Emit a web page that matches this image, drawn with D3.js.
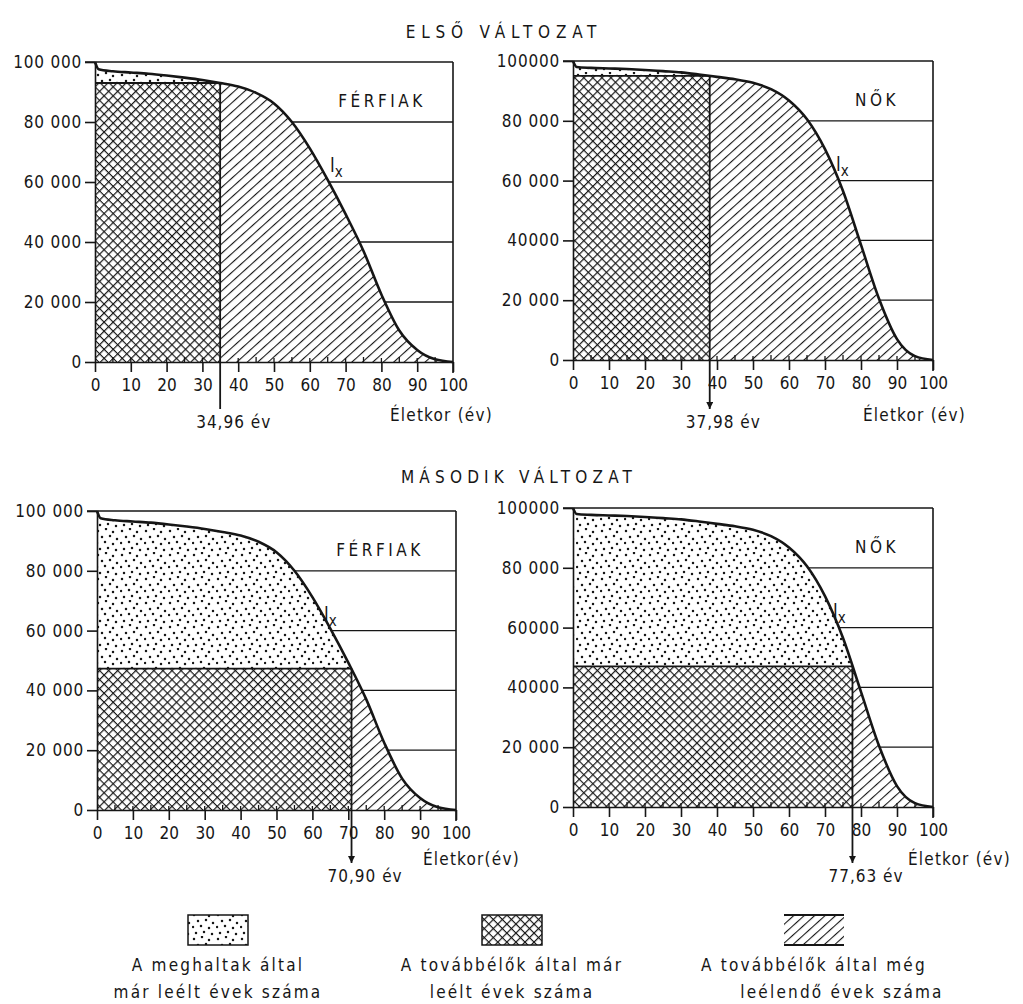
<!DOCTYPE html>
<html lang="hu">
<head>
<meta charset="UTF-8">
<title>Életkor - lx görbék</title>
<script src="https://d3js.org/d3.v7.min.js"></script>
<style>
    body { margin: 0; background: #fff; }
    svg text { font-family: "Liberation Sans Narrow", "DejaVu Sans Condensed", "Liberation Sans", sans-serif; fill: #161616; }
    .axis path, .axis line { stroke: #161616; stroke-width: 1.6px; }
    .grid { stroke: #161616; stroke-width: 1.3px; }
</style>
</head>
<body>
<svg width="1023" height="1004"></svg>
<script>
// életkor (év) és lx értékek
const ages     = [0, 1, 5, 10, 15, 20, 25, 30, 35, 40, 45, 50, 55, 60, 65, 70, 75, 80, 85, 90, 95, 100];
const menLx    = [100000, 97600, 96900, 96500, 96100, 95500, 94800, 94000, 93000, 91800, 89700, 86200, 80000, 71200, 60700, 49300, 37000, 22500, 10500, 4000, 900, 0];
const womenLx  = [100000, 98000, 97700, 97500, 97300, 97000, 96600, 96200, 95500, 94700, 93900, 92700, 90600, 86800, 80500, 70500, 56500, 38500, 20500, 7000, 1300, 0];

// panelek: első változat (férfi, nő), második változat (férfi, nő)
const cutAges   = [34.96, 37.98, 70.90, 77.63];
const cutLevels = [93000, 95000, 47300, 47000];
const cutLabels = ['34,96 év', '37,98 év', '70,90 év', '77,63 év'];
const variantTitles = ['ELSŐ VÁLTOZAT', 'MÁSODIK VÁLTOZAT'];
const sexLabels = ['FÉRFIAK', 'NŐK'];

const xTicks = [0, 10, 20, 30, 40, 50, 60, 70, 80, 90, 100];
const xMinor = [5, 15, 25, 35, 45, 55, 65, 75, 85, 95];
const yTicks = [0, 20000, 40000, 60000, 80000, 100000];
const gridLevels = [20000, 40000, 60000, 80000];
const yTickLabels = [
    ['0', '20 000', '40 000', '60 000', '80 000', '100 000'],
    ['0', '20 000', '40000', '60 000', '80 000', '100000'],
    ['0', '20 000', '40 000', '60 000', '80 000', '100 000'],
    ['0', '20 000', '40000', '60000', '80 000', '100000']
];
const xAxisTitles = ['Életkor (év)', 'Életkor (év)', 'Életkor(év)', 'Életkor (év)'];
const legendLabels = [
    ['A meghaltak által', 'már leélt évek száma'],
    ['A továbbélők által már', 'leélt évek száma'],
    ['A továbbélők által még', 'leélendő évek száma']
];

const svg = d3.select('svg');
const ink = '#161616';

// panel elrendezés
const panels = [
    { left: 95,  right: 453, top: 62,  bottom: 362, sex: 0, arrow: false, axisTitleX: 390, axisTitleY: 421, labelY: 428, sexX: 382, lxX: 330 },
    { left: 573, right: 933, top: 61,  bottom: 360, sex: 1, arrow: true,  axisTitleX: 863, axisTitleY: 421, labelY: 428, sexX: 877, lxX: 836 },
    { left: 97,  right: 456, top: 511, bottom: 810, sex: 0, arrow: true,  axisTitleX: 423, axisTitleY: 865, labelY: 882, sexX: 380, lxX: 324 },
    { left: 573, right: 933, top: 508, bottom: 807, sex: 1, arrow: true,  axisTitleX: 908, axisTitleY: 865, labelY: 882, sexX: 877, lxX: 833 }
];

// mintázatok
const defs = svg.append('defs');

const dots = defs.append('pattern')
    .attr('id', 'dots').attr('patternUnits', 'userSpaceOnUse')
    .attr('width', 24).attr('height', 24);
dots.append('rect').attr('width', 24).attr('height', 24).attr('fill', '#fff');
[[2, 3], [10, 1], [17, 4], [6, 9], [14, 8], [21, 11], [1, 15], [9, 14], [17, 16], [4, 21], [12, 20], [20, 22]]
    .forEach(p => dots.append('circle').attr('cx', p[0]).attr('cy', p[1]).attr('r', 1.25).attr('fill', ink));

const cross = defs.append('pattern')
    .attr('id', 'cross').attr('patternUnits', 'userSpaceOnUse')
    .attr('width', 6.4).attr('height', 6.4)
    .attr('patternTransform', 'rotate(45)');
cross.append('rect').attr('width', 6.4).attr('height', 6.4).attr('fill', '#fff');
cross.append('path').attr('d', 'M0,0V6.4M0,0H6.4').attr('stroke', ink).attr('stroke-width', 2.4);

const hatch = defs.append('pattern')
    .attr('id', 'hatch').attr('patternUnits', 'userSpaceOnUse')
    .attr('width', 7).attr('height', 7)
    .attr('patternTransform', 'rotate(-42)');
hatch.append('rect').attr('width', 7).attr('height', 7).attr('fill', '#fff');
hatch.append('path').attr('d', 'M0,0H7').attr('stroke', ink).attr('stroke-width', 2.2);

defs.append('marker')
    .attr('id', 'arrow').attr('viewBox', '0 0 8 8')
    .attr('refX', 8).attr('refY', 4)
    .attr('markerWidth', 7).attr('markerHeight', 7)
    .attr('markerUnits', 'userSpaceOnUse')
    .attr('orient', 'auto')
    .append('path').attr('d', 'M0,0L8,4L0,8z').attr('fill', ink);

// címek
svg.append('text').attr('x', 504).attr('y', 38).attr('text-anchor', 'middle')
    .attr('font-size', 17).attr('letter-spacing', 5.8).text(variantTitles[0]);
svg.append('text').attr('x', 519).attr('y', 483).attr('text-anchor', 'middle')
    .attr('font-size', 17).attr('letter-spacing', 5.2).text(variantTitles[1]);

panels.forEach((p, i) => {
    const lxValues = p.sex === 0 ? menLx : womenLx;
    const series = ages.map((a, j) => ({ age: a, lx: lxValues[j] }));
    const t = cutAges[i];
    const level = cutLevels[i];

    const x = d3.scaleLinear().domain([0, 100]).range([p.left, p.right]);
    const y = d3.scaleLinear().domain([0, 100000]).range([p.bottom, p.top]);

    const area = d3.area()
        .x(d => x(d.age)).y0(y(0)).y1(d => y(d.lx))
        .curve(d3.curveMonotoneX);
    const line = d3.line()
        .x(d => x(d.age)).y(d => y(d.lx))
        .curve(d3.curveMonotoneX);

    const g = svg.append('g');

    // vízszintes vonalak a jobb oldalon
    g.selectAll('.grid').data(gridLevels).join('line')
        .attr('class', 'grid')
        .attr('x1', x(0)).attr('x2', x(100))
        .attr('y1', d => y(d)).attr('y2', d => y(d));

    defs.append('clipPath').attr('id', 'under-' + i)
        .append('path').attr('d', area(series));

    const fills = g.append('g').attr('clip-path', `url(#under-${i})`);
    fills.append('rect')
        .attr('x', x(0)).attr('width', x(t) - x(0))
        .attr('y', y(100000)).attr('height', y(level) - y(100000))
        .attr('fill', 'url(#dots)');
    fills.append('rect')
        .attr('x', x(0)).attr('width', x(t) - x(0))
        .attr('y', y(level)).attr('height', y(0) - y(level))
        .attr('fill', 'url(#cross)');
    fills.append('rect')
        .attr('x', x(t)).attr('width', x(100) - x(t))
        .attr('y', y(100000)).attr('height', y(0) - y(100000))
        .attr('fill', 'url(#hatch)');

    // keresztsraffozott téglalap teteje
    g.append('line')
        .attr('x1', x(0)).attr('x2', x(t))
        .attr('y1', y(level)).attr('y2', y(level))
        .attr('stroke', ink).attr('stroke-width', 1.8);

    // lx görbe
    g.append('path').attr('d', line(series))
        .attr('fill', 'none').attr('stroke', ink).attr('stroke-width', 2.6);

    // keret
    g.append('line').attr('x1', x(0) - 10).attr('x2', x(100))
        .attr('y1', y(100000)).attr('y2', y(100000))
        .attr('stroke', ink).attr('stroke-width', 1.6);
    g.append('line').attr('x1', x(100)).attr('x2', x(100))
        .attr('y1', y(100000)).attr('y2', y(0) + 11)
        .attr('stroke', ink).attr('stroke-width', 1.6);

    // tengelyek
    const yAxis = g.append('g').attr('class', 'axis')
        .attr('transform', `translate(${x(0)},0)`)
        .call(d3.axisLeft(y).tickValues(yTicks).tickSize(10).tickSizeOuter(0).tickPadding(3)
            .tickFormat((d, j) => yTickLabels[i][j]));
    yAxis.selectAll('text').attr('font-size', 17).attr('font-family', null).attr('letter-spacing', 0.8);

    const xAxis = g.append('g').attr('class', 'axis')
        .attr('transform', `translate(0,${y(0)})`)
        .call(d3.axisBottom(x).tickValues(xTicks).tickSize(10).tickSizeOuter(0).tickPadding(7));
    xAxis.select('.domain').attr('stroke-width', 2.2);
    xAxis.selectAll('text').attr('font-size', 17).attr('font-family', null);
    g.selectAll('.minor').data(xMinor).join('line')
        .attr('class', 'minor')
        .attr('x1', d => x(d)).attr('x2', d => x(d))
        .attr('y1', y(0)).attr('y2', y(0) - 5)
        .attr('stroke', ink).attr('stroke-width', 1.3);
    g.selectAll('.major-in').data(xTicks.slice(1, -1)).join('line')
        .attr('class', 'major-in')
        .attr('x1', d => x(d)).attr('x2', d => x(d))
        .attr('y1', y(0)).attr('y2', y(0) - 4)
        .attr('stroke', ink).attr('stroke-width', 1.3);

    // függőleges jelölő vonal
    g.append('line')
        .attr('x1', x(t)).attr('x2', x(t))
        .attr('y1', y(level)).attr('y2', p.labelY - 19)
        .attr('stroke', ink).attr('stroke-width', 1.8)
        .attr('marker-end', p.arrow ? 'url(#arrow)' : null);
    g.append('text')
        .attr('x', x(t) - 24).attr('y', p.labelY)
        .attr('font-size', 17).attr('letter-spacing', 1)
        .text(cutLabels[i]);

    g.append('text')
        .attr('x', p.axisTitleX).attr('y', p.axisTitleY)
        .attr('font-size', 17).attr('letter-spacing', 1.2)
        .text(xAxisTitles[i]);

    g.append('text')
        .attr('x', p.sexX).attr('y', y(100000) + 45)
        .attr('text-anchor', 'middle')
        .attr('font-size', 17).attr('letter-spacing', 3.5)
        .text(sexLabels[p.sex]);

    const lxLabel = g.append('text')
        .attr('x', p.lxX).attr('y', y(100000) + 110)
        .attr('font-size', 19);
    lxLabel.append('tspan').text('l');
    lxLabel.append('tspan').attr('dy', 5).attr('font-size', 15).text('x');
});

// jelmagyarázat
const legendX = [218, 512, 814];
const legendFills = ['url(#dots)', 'url(#cross)', 'url(#hatch)'];
legendX.forEach((cx, k) => {
    const lg = svg.append('g');
    const bw = 60, top = 915, bh = 30;
    lg.append('rect')
        .attr('x', cx - bw / 2).attr('y', top).attr('width', bw).attr('height', bh)
        .attr('fill', legendFills[k])
        .attr('stroke', k === 2 ? 'none' : ink).attr('stroke-width', 1.5);
    if (k === 2) {
        lg.append('line').attr('x1', cx - bw / 2).attr('x2', cx + bw / 2).attr('y1', top).attr('y2', top)
            .attr('stroke', ink).attr('stroke-width', 2.2);
        lg.append('line').attr('x1', cx - bw / 2).attr('x2', cx + bw / 2).attr('y1', top + bh).attr('y2', top + bh)
            .attr('stroke', ink).attr('stroke-width', 2.2);
    }
    lg.append('text').attr('x', cx).attr('y', 971).attr('text-anchor', 'middle')
        .attr('font-size', 17).attr('letter-spacing', 2.2).text(legendLabels[k][0]);
    lg.append('text').attr('x', cx + (k === 2 ? 28 : 0)).attr('y', 998).attr('text-anchor', 'middle')
        .attr('font-size', 17).attr('letter-spacing', 2.2).text(legendLabels[k][1]);
});
</script>
</body>
</html>
